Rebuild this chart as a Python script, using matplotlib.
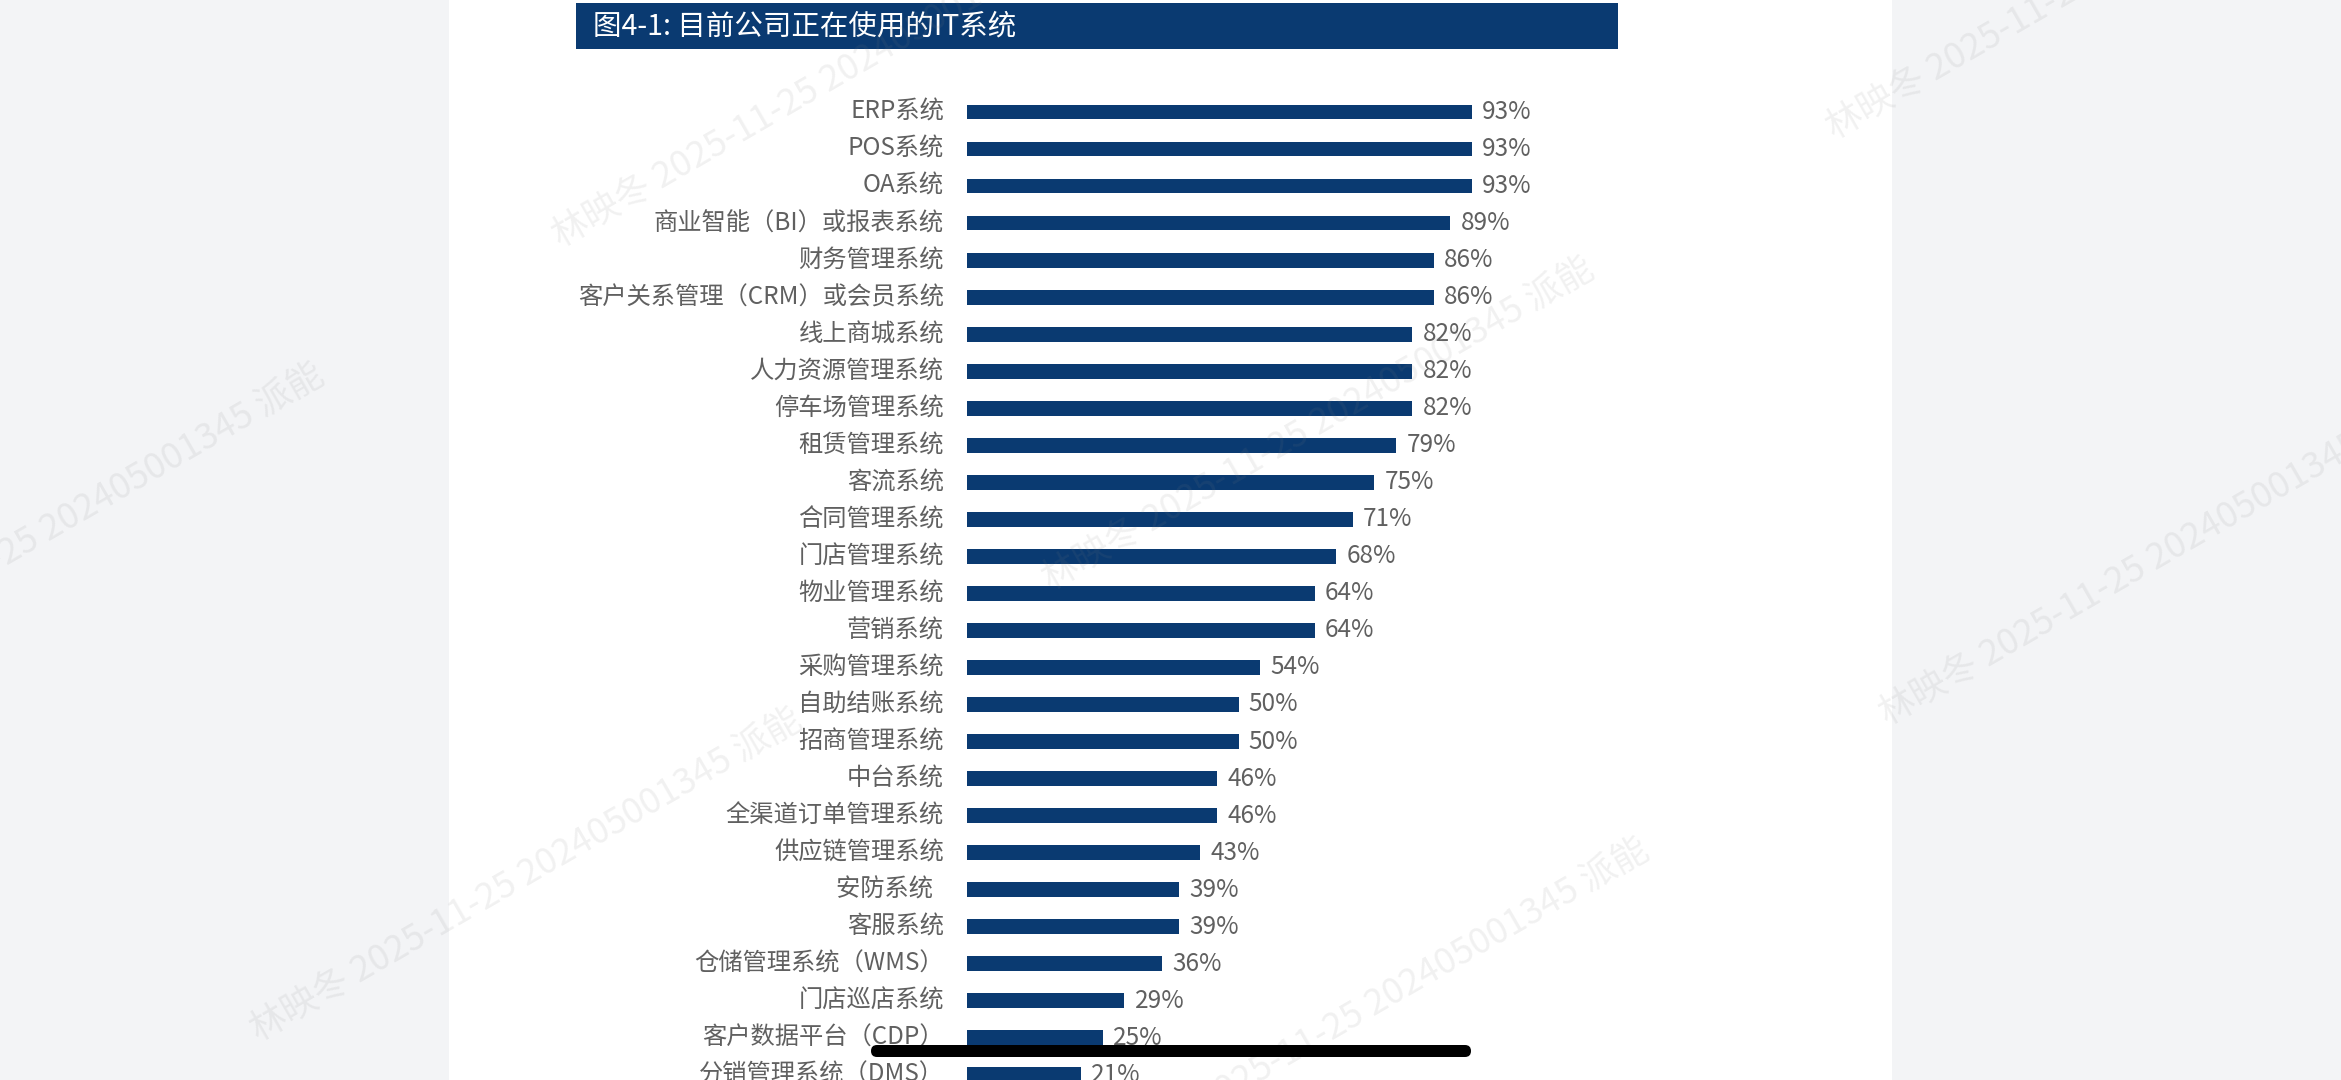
import matplotlib.pyplot as plt
from matplotlib.patches import Rectangle, FancyBboxPatch
from matplotlib.transforms import IdentityTransform

plt.rcParams['font.family'] = ['Noto Sans CJK SC', 'DejaVu Sans']

# ---------- data ----------
systems = [
    'ERP系统', 'POS系统', 'OA系统', '商业智能（BI）或报表系统', '财务管理系统',
    '客户关系管理（CRM）或会员系统', '线上商城系统', '人力资源管理系统', '停车场管理系统',
    '租赁管理系统', '客流系统', '合同管理系统', '门店管理系统', '物业管理系统', '营销系统',
    '采购管理系统', '自助结账系统', '招商管理系统', '中台系统', '全渠道订单管理系统',
    '供应链管理系统', '安防系统  ', '客服系统', '仓储管理系统（WMS）', '门店巡店系统',
    '客户数据平台（CDP）', '分销管理系统（DMS）',
]
share = [93, 93, 93, 89, 86, 86, 82, 82, 82, 79, 75, 71, 68, 64, 64,
         54, 50, 50, 46, 46, 43, 39, 39, 36, 29, 25, 21]

title = '图4-1: 目前公司正在使用的IT系统'
watermark = '林映冬 2025-11-25 202405001345 派能'

# ---------- layout (pixels of the 2341x1080 screenshot) ----------
W, H = 2341, 1080
navy = '#0a3a71'
label_grey = '#606060'

fig = plt.figure(figsize=(W / 100, H / 100), dpi=100)
fig.patch.set_facecolor('#f3f4f6')


def fx(x):
    return x / W


def fy(y):
    return 1 - y / H


# white page + title band
fig.patches.append(Rectangle((fx(449), 0), fx(1892 - 449), 1, transform=fig.transFigure,
                             facecolor='white', edgecolor='none', zorder=-2))
fig.patches.append(Rectangle((fx(576), fy(49)), fx(1618 - 576), (49 - 3) / H,
                             transform=fig.transFigure, facecolor=navy,
                             edgecolor='none', zorder=-1))
fig.text(fx(593), fy(27), title, color='white', fontsize=20.5, fontweight='light',
         ha='left', va='center')

# bar chart: 100% = 543 px, rows every 37 px starting at y=112
ax = fig.add_axes([fx(967), 0, fx(543), 1])
ax.set_facecolor('none')
ax.set_xlim(0, 100)
ax.set_ylim((H - 112) / 37.03, -112 / 37.03)
ax.axis('off')

rows = range(len(systems))
ax.barh(rows, share, height=0.4, color=navy)
for i, (name, v) in enumerate(zip(systems, share)):
    ax.text(-4.25, i, name, ha='right', va='center', fontsize=17.5,
            fontweight='light', color=label_grey)
    ax.text(v + 1.9, i, f'{v}%', ha='left', va='center', fontsize=17.5,
            fontweight='light', color=label_grey)

# watermarks
wm_starts = [(555, 239), (1045, 582), (1829, 131), (1882, 717),
             (-225, 688), (253, 1033), (1100, 1163)]
for x, y in wm_starts:
    fig.text(fx(x), fy(y), watermark, rotation=30, rotation_mode='anchor',
             ha='left', va='center', fontsize=26, color='#808080', alpha=0.11,
             zorder=10)

# phone home indicator
fig.patches.append(FancyBboxPatch((871, H - 1057), 600, 12,
                                  boxstyle='round,pad=0,rounding_size=6',
                                  transform=IdentityTransform(), facecolor='black',
                                  edgecolor='none', zorder=20))

fig.savefig('out.png', dpi=100)
